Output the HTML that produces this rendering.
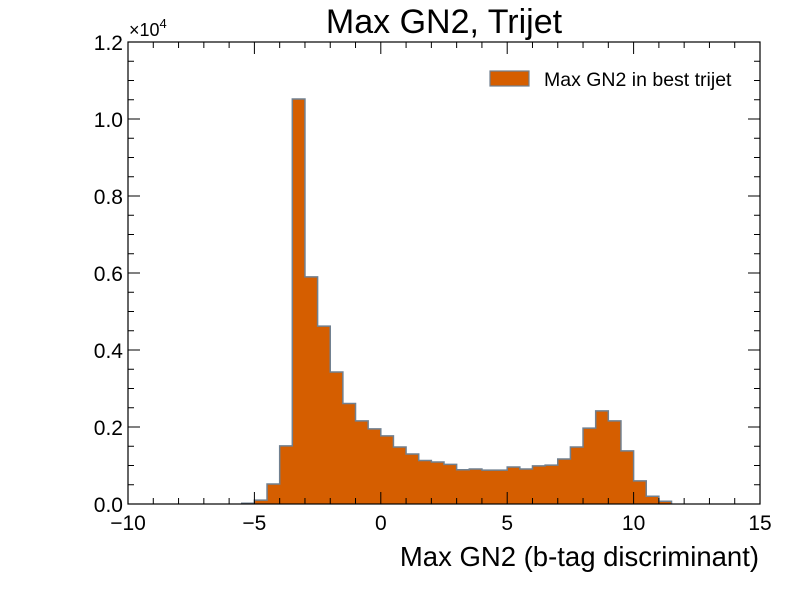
<!DOCTYPE html>
<html><head><meta charset="utf-8"><style>
body{margin:0;background:#fff;}
svg text{font-family:"Liberation Sans",Arial,sans-serif;fill:#000;}
</style></head><body>
<svg id="chart" width="800" height="600" xmlns="http://www.w3.org/2000/svg">
<text x="444" y="33" font-size="34" text-anchor="middle">Max GN2, Trijet</text>
<g id="bars"></g>
<g id="axes"></g>
<text x="759" y="566" font-size="27.5" text-anchor="end">Max GN2 (b-tag discriminant)</text>
<text x="129" y="36" font-size="18">×10<tspan font-size="13" dy="-8">4</tspan></text>
<g>
<rect x="490" y="71" width="39" height="15" fill="#d55e00" stroke="#708090" stroke-width="1.2"/>
<text x="544" y="86" font-size="19.5">Max GN2 in best trijet</text>
</g>
</svg>
<script>
const binStart = -5.5;
const binWidth = 0.5;
const counts = [20,100,520,1510,10520,5900,4620,3430,2610,2160,1950,1770,1480,1300,1130,1090,1030,890,910,880,880,960,910,990,1010,1170,1480,1970,2420,2160,1380,600,200,70];
const xTicks = [-10,-5,0,5,10,15];
const yTicks = [0,0.2,0.4,0.6,0.8,1.0,1.2];
const yTickLabels = ["0.0","0.2","0.4","0.6","0.8","1.0","1.2"];

const L=128,R=760,T=42,B=504;
const xMin=-10,xMax=15,yMax=12000;
const sx=v=>L+(v-xMin)/(xMax-xMin)*(R-L);
const sy=v=>B-v/yMax*(B-T);
const NS="http://www.w3.org/2000/svg";
function mk(t,a){const e=document.createElementNS(NS,t);for(const k in a)e.setAttribute(k,a[k]);return e;}
const bars=document.getElementById('bars');
let d="M"+sx(binStart)+","+B;
counts.forEach((c,i)=>{
  const x0=binStart+i*binWidth;
  const r=mk('rect',{x:sx(x0)-0.3,y:sy(c),width:sx(x0+binWidth)-sx(x0)+0.6,height:B-sy(c),fill:'#d55e00','shape-rendering':'crispEdges'});
  
  
  bars.appendChild(r);
  d+=" L"+sx(x0)+","+sy(c)+" L"+sx(x0+binWidth)+","+sy(c);
});
d+=" L"+sx(binStart+counts.length*binWidth)+","+B;
const outline=mk('path',{d:d,fill:'none',stroke:'#708090','stroke-width':1.5});


bars.appendChild(outline);

const ax=document.getElementById('axes');
const frame=mk('rect',{x:L,y:T,width:R-L,height:B-T,fill:'none',stroke:'#000','stroke-width':1.2});


ax.appendChild(frame);
function line(x1,y1,x2,y2){ax.appendChild(mk('line',{x1,y1,x2,y2,stroke:'#000','stroke-width':1}));}
for(let v=xMin;v<=xMax;v++){
  const x=sx(v),maj=v%5===0,len=maj?12:6;
  line(x,B,x,B-len);line(x,T,x,T+len);
}
xTicks.forEach(v=>{
  const t=mk('text',{x:sx(v),y:B+26,'font-size':21,'text-anchor':'middle'});
  
  
  t.textContent=(v<0?'\u2212'+(-v):v);ax.appendChild(t);
});
for(let k=0;k<=24;k++){
  const y=sy(k*500),maj=k%4===0,len=maj?12:6;
  line(L,y,L+len,y);line(R,y,R-len,y);
}
yTicks.forEach((v,i)=>{
  const t=mk('text',{x:L-5,y:sy(v*10000)+8,'font-size':21,'text-anchor':'end'});
  
  
  t.textContent=yTickLabels[i];ax.appendChild(t);
});
</script>
</body></html>
